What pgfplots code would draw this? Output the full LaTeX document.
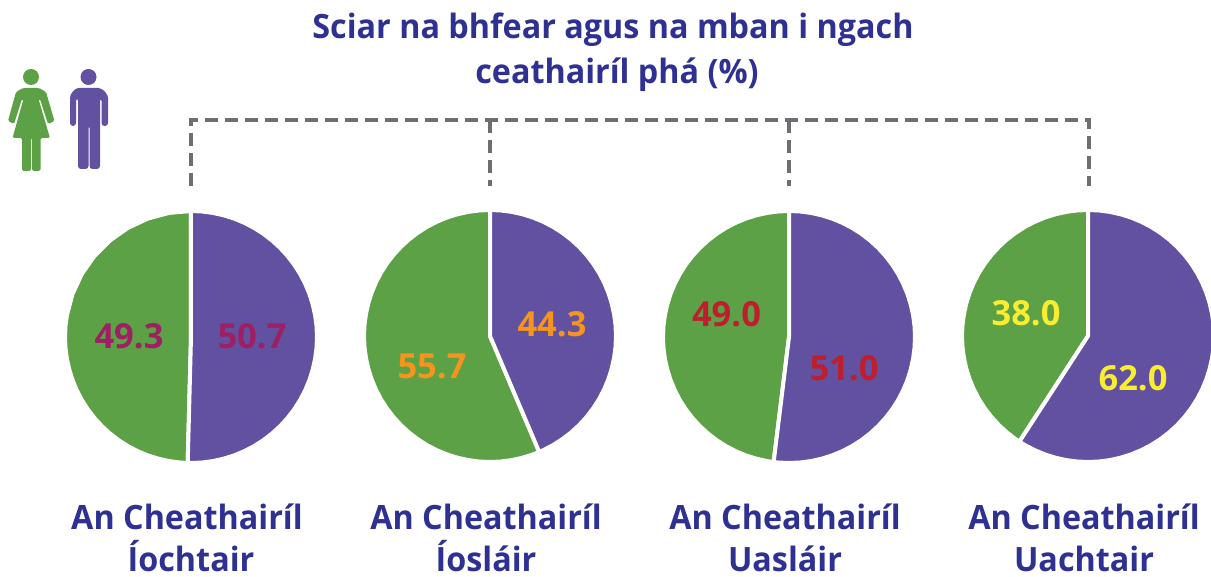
\documentclass[border=0pt]{standalone}
\usepackage{fontspec}
\setmainfont{Open Sans}[BoldFont={Open Sans Bold}]
\newfontfamily\tfont{Open Sans Bold}[FakeStretch=0.965]
\usepackage{pgfplots}
\usepgfplotslibrary{polar}
\pgfplotsset{compat=1.18}
\definecolor{grn}{HTML}{5CA145}
\definecolor{prp}{HTML}{6250A0}
\definecolor{navy}{HTML}{2E3192}
\definecolor{dashc}{HTML}{6D6E71}
\definecolor{mag}{HTML}{9E1F63}
\definecolor{org}{HTML}{F7941D}
\definecolor{rd}{HTML}{BE1E2D}
\definecolor{yel}{HTML}{F9ED32}
\pgfplotsset{pie/.style={hide axis,scale only axis,width=252pt,height=252pt,anchor=center,xmin=0,xmax=360,ymin=0,ymax=1,clip=false},
 gs/.style={fill=grn,draw=white,line width=4pt,line join=round},
 ps/.style={fill=prp,draw=white,line width=4pt,line join=round}}
\begin{document}
\begin{tikzpicture}[x=1pt,y=1pt]
\path[use as bounding box] (0,0) rectangle (1211,577);
% Pie 1: women 49.3, men 50.7
\begin{polaraxis}[pie,at={(191pt,240pt)}]
\addplot[gs] coordinates {(0,0)(90,1)(100,1)(110,1)(120,1)(130,1)(140,1)(150,1)(160,1)(170,1)(175,1)(180,1)(185,1)(190,1)(195,1)(200,1)(205,1)(210,1)(215,1)(220,1)(225,1)(230,1)(235,1)(240,1)(245,1)(250,1)(255,1)(260,1)(265,1)(268.5,1)} -- cycle;
\addplot[ps] coordinates {(0,0)(268.5,1)(270,1)(275,1)(280,1)(285,1)(290,1)(295,1)(300,1)(305,1)(310,1)(315,1)(320,1)(325,1)(330,1)(335,1)(340,1)(345,1)(350,1)(355,1)(360,1)(365,1)(370,1)(375,1)(380,1)(385,1)(390,1)(395,1)(400,1)(405,1)(410,1)(415,1)(420,1)(425,1)(430,1)(435,1)(440,1)(445,1)(450,1)} -- cycle;
\end{polaraxis}
% Pie 2: women 55.7, men 44.3
\begin{polaraxis}[pie,at={(490pt,241pt)}]
\addplot[gs] coordinates {(0,0)(90,1)(95,1)(100,1)(105,1)(110,1)(115,1)(120,1)(125,1)(130,1)(135,1)(140,1)(145,1)(150,1)(155,1)(160,1)(165,1)(170,1)(175,1)(180,1)(185,1)(190,1)(195,1)(200,1)(205,1)(210,1)(215,1)(220,1)(225,1)(230,1)(235,1)(240,1)(245,1)(250,1)(255,1)(260,1)(265,1)(270,1)(275,1)(280,1)(285,1)(290,1)(293,1)} -- cycle;
\addplot[ps] coordinates {(0,0)(293,1)(295,1)(300,1)(305,1)(310,1)(315,1)(320,1)(325,1)(330,1)(335,1)(340,1)(345,1)(350,1)(355,1)(360,1)(365,1)(370,1)(375,1)(380,1)(385,1)(390,1)(395,1)(400,1)(405,1)(410,1)(415,1)(420,1)(425,1)(430,1)(435,1)(440,1)(445,1)(450,1)} -- cycle;
\end{polaraxis}
% Pie 3: women 49.0, men 51.0
\begin{polaraxis}[pie,at={(789pt,240pt)}]
\addplot[gs] coordinates {(0,0)(90,1)(95,1)(100,1)(105,1)(110,1)(115,1)(120,1)(125,1)(130,1)(135,1)(140,1)(145,1)(150,1)(155,1)(160,1)(165,1)(170,1)(175,1)(180,1)(185,1)(190,1)(195,1)(200,1)(205,1)(210,1)(215,1)(220,1)(225,1)(230,1)(235,1)(240,1)(245,1)(250,1)(255,1)(260,1)(263,1)} -- cycle;
\addplot[ps] coordinates {(0,0)(263,1)(265,1)(270,1)(275,1)(280,1)(285,1)(290,1)(295,1)(300,1)(305,1)(310,1)(315,1)(320,1)(325,1)(330,1)(335,1)(340,1)(345,1)(350,1)(355,1)(360,1)(365,1)(370,1)(375,1)(380,1)(385,1)(390,1)(395,1)(400,1)(405,1)(410,1)(415,1)(420,1)(425,1)(430,1)(435,1)(440,1)(445,1)(450,1)} -- cycle;
\end{polaraxis}
% Pie 4: women 38.0, men 62.0
\begin{polaraxis}[pie,at={(1088pt,241pt)}]
\addplot[gs] coordinates {(0,0)(90,1)(95,1)(100,1)(105,1)(110,1)(115,1)(120,1)(125,1)(130,1)(135,1)(140,1)(145,1)(150,1)(155,1)(160,1)(165,1)(170,1)(175,1)(180,1)(185,1)(190,1)(195,1)(200,1)(205,1)(210,1)(215,1)(220,1)(225,1)(230,1)(235,1)(237,1)} -- cycle;
\addplot[ps] coordinates {(0,0)(237,1)(240,1)(245,1)(250,1)(255,1)(260,1)(265,1)(270,1)(275,1)(280,1)(285,1)(290,1)(295,1)(300,1)(305,1)(310,1)(315,1)(320,1)(325,1)(330,1)(335,1)(340,1)(345,1)(350,1)(355,1)(360,1)(365,1)(370,1)(375,1)(380,1)(385,1)(390,1)(395,1)(400,1)(405,1)(410,1)(415,1)(420,1)(425,1)(430,1)(435,1)(440,1)(445,1)(450,1)} -- cycle;
\end{polaraxis}
% Overlay in pixel coordinates
\begin{axis}[at={(0,0)},anchor=south west,hide axis,scale only axis,width=1211pt,height=577pt,xmin=0,xmax=1211,ymin=0,ymax=577,y dir=reverse,clip=false]
\addplot[dashc,line width=3.2pt,dash pattern=on 13pt off 7pt] coordinates {(191,186)(191,120)(1089,120)(1089,186)};
\addplot[dashc,line width=3.2pt,dash pattern=on 13pt off 7pt] coordinates {(490,120)(490,186)};
\addplot[dashc,line width=3.2pt,dash pattern=on 13pt off 7pt] coordinates {(789,120)(789,186)};
% woman
\fill[grn] (axis cs:31,77) circle[radius=8pt];
\fill[grn,rounded corners=1.5pt] (axis cs:23,88) -- (axis cs:39,88) -- (axis cs:46,92) -- (axis cs:54.5,121) -- (axis cs:48,124) -- (axis cs:40,99) -- (axis cs:38.5,99) -- (axis cs:50,138) -- (axis cs:40.5,138) -- (axis cs:40.5,171) -- (axis cs:32,171) -- (axis cs:32,138) -- (axis cs:31,138) -- (axis cs:31,171) -- (axis cs:22,171) -- (axis cs:22,138) -- (axis cs:12.5,138) -- (axis cs:23.5,99) -- (axis cs:22,99) -- (axis cs:14,124) -- (axis cs:8,121) -- (axis cs:16,92) -- cycle;
% man
\fill[prp] (axis cs:88.5,77) circle[radius=8pt];
\fill[prp,rounded corners=3pt] (axis cs:76,88) -- (axis cs:101,88) -- (axis cs:108,95) -- (axis cs:108,126) -- (axis cs:101.5,126) -- (axis cs:101.5,98) -- (axis cs:100,98) -- (axis cs:100,169) -- (axis cs:89.5,169) -- (axis cs:89.5,125) -- (axis cs:88.5,125) -- (axis cs:88.5,169) -- (axis cs:78,169) -- (axis cs:78,98) -- (axis cs:76,98) -- (axis cs:76,126) -- (axis cs:70,126) -- (axis cs:70,95) -- cycle;
\tikzset{t/.style={font=\fontsize{33.5}{40}\tfont,text=navy,inner sep=0pt,anchor=base},v/.style={font=\fontsize{34.5}{40}\selectfont\bfseries,inner sep=0pt,anchor=base}}
\node[t] at (axis cs:613,39) {Sciar na bhfear agus na mban i ngach};
\node[t] at (axis cs:617,84) {ceathairíl phá (\%)};
\node[t] at (axis cs:187,529) {An Cheathairíl};
\node[t] at (axis cs:191,571) {Íochtair};
\node[t] at (axis cs:486,529) {An Cheathairíl};
\node[t] at (axis cs:486,571) {Íosláir};
\node[t] at (axis cs:785,529) {An Cheathairíl};
\node[t] at (axis cs:785,571) {Uasláir};
\node[t] at (axis cs:1084,529) {An Cheathairíl};
\node[t] at (axis cs:1084,571) {Uachtair};
\node[v,text=mag] at (axis cs:129,349) {49.3};
\node[v,text=mag] at (axis cs:252,349) {50.7};
\node[v,text=org] at (axis cs:432,378.5) {55.7};
\node[v,text=org] at (axis cs:552,337) {44.3};
\node[v,text=rd] at (axis cs:726.5,326.5) {49.0};
\node[v,text=rd] at (axis cs:844,381) {51.0};
\node[v,text=yel] at (axis cs:1026,325.5) {38.0};
\node[v,text=yel] at (axis cs:1133,390.5) {62.0};
\end{axis}
\end{tikzpicture}
\end{document}
